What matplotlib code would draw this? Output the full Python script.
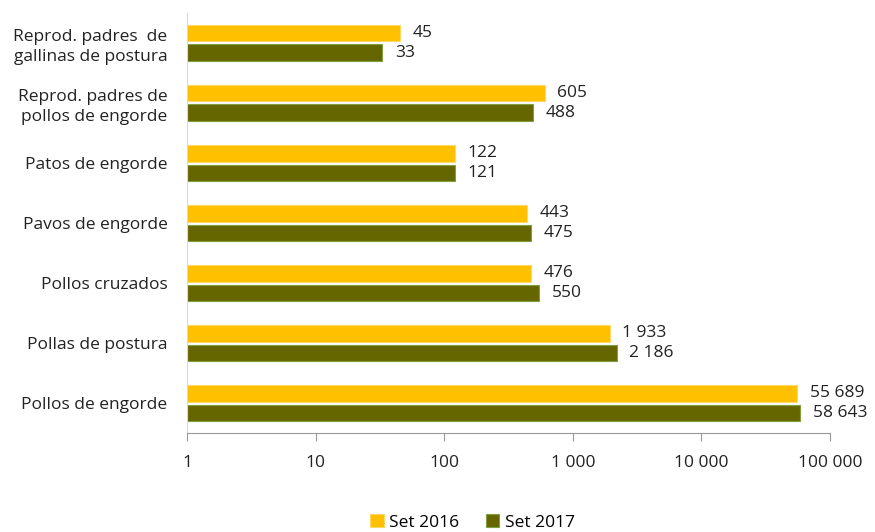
import matplotlib
matplotlib.use("Agg")
import matplotlib.pyplot as plt
import numpy as np
from matplotlib.ticker import FixedLocator, NullLocator

categories = ["Reprod. padres  de\ngallinas de postura",
              "Reprod. padres de\npollos de engorde",
              "Patos de engorde",
              "Pavos de engorde",
              "Pollos cruzados",
              "Pollas de postura",
              "Pollos de engorde"]
set2016 = [45, 605, 122, 443, 476, 1933, 55689]
set2017 = [33, 488, 121, 475, 550, 2186, 58643]
tick_vals = [1, 10, 100, 1000, 10000, 100000]
tick_labels = ["1", "10", "100", "1 000", "10 000", "100 000"]
series_names = ["Set 2016", "Set 2017"]

def fmt(v):
    return f"{v:,}".replace(",", " ")

FS = 12.5
plt.rcParams['font.family'] = ['Open Sans', 'DejaVu Sans']
fig = plt.figure(figsize=(8.75, 5.32), dpi=100)
ax = fig.add_axes([0.2137, 0.186, 0.735, 0.7896])

n = len(categories)
y = np.arange(n)
h = 0.27
c16 = "#FFC000"
c17 = "#666600"
b1 = ax.barh(y - 0.16, set2016, height=h, left=0, color=c16, edgecolor="#FFD966", linewidth=0.8, label=series_names[0])
b2 = ax.barh(y + 0.16, set2017, height=h, left=0, color=c17, edgecolor="#7F9F3F", linewidth=0.8, label=series_names[1])

ax.set_xscale("log")
ax.set_xlim(1, 100000)
ax.set_ylim(n - 0.5, -0.5)
ax.set_yticks(y)
ax.set_yticklabels(categories, fontsize=FS, color="#222222", linespacing=1.3)
ax.tick_params(axis="y", length=0, pad=14)
ax.xaxis.set_major_locator(FixedLocator(tick_vals))
ax.xaxis.set_minor_locator(NullLocator())
ax.set_xticklabels(tick_labels, fontsize=FS, color="#222222")
ax.tick_params(axis="x", length=6, color="#999999", pad=10, direction="out")

for s in ["top", "right"]:
    ax.spines[s].set_visible(False)
ax.spines["left"].set_color("#d9d9d9")
ax.spines["bottom"].set_color("#999999")

for bars, vals in ((b1, set2016), (b2, set2017)):
    for rect, v in zip(bars, vals):
        ax.annotate(fmt(v), xy=(v, rect.get_y() + rect.get_height() / 2),
                    xytext=(9, 0), textcoords="offset points",
                    va="center", ha="left", fontsize=FS, color="#222222")

leg = fig.legend(handles=[b1, b2], labels=series_names, loc="center",
                 bbox_to_anchor=(0.54, 0.018), ncol=2, frameon=False,
                 fontsize=FS, handlelength=0.8, handleheight=0.8,
                 handletextpad=0.3, columnspacing=1.5)

fig.savefig("out.png", dpi=100)
